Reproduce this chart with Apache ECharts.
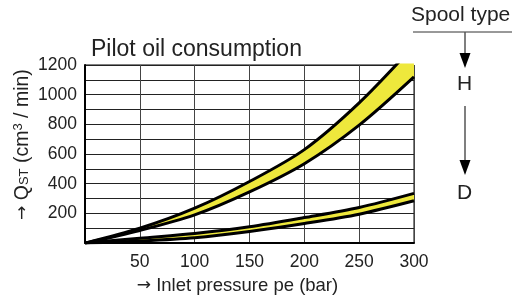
<!DOCTYPE html>
<html>
<head>
<meta charset="utf-8">
<script src="https://cdn.jsdelivr.net/npm/echarts@6/dist/echarts.min.js"></script>
<style>
  html, body { margin: 0; padding: 0; background: #fff; }
  #main { width: 524px; height: 300px; }
</style>
</head>
<body>
<div id="main"></div>
<script>
// pressure values (bar)
const pressure = ['0', '50', '100', '150', '200', '250', '300'];
// spool H band (cm3/min)
const hLower = [0, 85, 190, 345, 535, 795, 1120];
const hUpper = [0, 100, 235, 415, 630, 945, 1330];
// spool D band
const dLower = [0, 14, 36, 78, 132, 195, 285];
const dUpper = [0, 33, 65, 110, 172, 240, 335];

const yellow = '#eee83c';
const font = 'Liberation Sans, Arial, sans-serif';

const diff = (a, b) => a.map((v, i) => v - b[i]);

const lineBase = { type: 'line', smooth: 0.3, symbol: 'none', lineStyle: { color: '#000', width: 3 } };

const chart = echarts.init(document.getElementById('main'));
chart.setOption({
    animation: false,
    title: {
        text: 'Pilot oil consumption',
        left: 86, top: 33,
        textStyle: { fontFamily: font, fontSize: 23, fontWeight: 'normal', color: '#222' }
    },
    grid: { left: 85, right: 110, top: 65, bottom: 52, show: true, borderColor: '#000', borderWidth: 1 },
    xAxis: {
        type: 'category', boundaryGap: false, data: pressure,
        name: '{a|→} Inlet pressure pe (bar)',
        nameLocation: 'middle', nameGap: 31,
        nameTextStyle: {
            fontFamily: font, fontSize: 18.5, color: '#222', padding: [0, 24, 0, 0],
            rich: { a: { fontFamily: 'DejaVu Sans', fontSize: 17, color: '#222' } }
        },
        axisLine: { lineStyle: { color: '#000', width: 2 } },
        axisTick: { show: false },
        axisLabel: { interval: 0, margin: 10, fontFamily: font, fontSize: 17.5, color: '#222', formatter: v => v === '0' ? '' : v },
        splitLine: { show: true, interval: 0, lineStyle: { color: '#444', width: 1 } }
    },
    yAxis: {
        type: 'value', min: 0, max: 1200, interval: 100,
        name: '{a|→} Q{s|ST} (cm{p|3} / min)',
        nameLocation: 'middle', nameGap: 52, nameMoveOverlap: false,
        nameTextStyle: {
            fontFamily: font, fontSize: 19.5, color: '#222', padding: [0, 0, 0, 19],
            rich: {
                a: { fontFamily: 'DejaVu Sans', fontSize: 17, color: '#222' },
                s: { fontFamily: font, fontSize: 13, color: '#222', padding: [4, 0, 0, 0] },
                p: { fontFamily: font, fontSize: 13, color: '#222', padding: [0, 0, 8, 0] }
            }
        },
        axisLine: { show: true, lineStyle: { color: '#000', width: 2 } },
        axisTick: { show: false },
        axisLabel: { margin: 8, fontFamily: font, fontSize: 17.5, color: '#222', formatter: v => (v > 0 && v % 200 === 0) ? v : '' },
        splitLine: { lineStyle: { color: '#222', width: 1 } }
    },
    series: [
        Object.assign({}, lineBase, { name: 'H min', stack: 'H', z: 3, data: hLower }),
        Object.assign({}, lineBase, { name: 'H max', stack: 'H', z: 2, areaStyle: { color: yellow, opacity: 1 }, data: diff(hUpper, hLower) }),
        Object.assign({}, lineBase, { name: 'D min', stack: 'D', z: 3, data: dLower }),
        Object.assign({}, lineBase, { name: 'D max', stack: 'D', z: 2, areaStyle: { color: yellow, opacity: 1 }, data: diff(dUpper, dLower) })
    ],
    graphic: [
        { type: 'text', left: 411, top: 5, style: { text: 'Spool type', font: '21px ' + font, fill: '#222' } },
        { type: 'line', shape: { x1: 413, y1: 32, x2: 512, y2: 32 }, style: { stroke: '#333', lineWidth: 1 } },
        { type: 'line', shape: { x1: 465, y1: 32, x2: 465, y2: 56 }, style: { stroke: '#555', lineWidth: 1.5 } },
        { type: 'polygon', shape: { points: [[459.5, 53], [470.5, 53], [465, 68]] }, style: { fill: '#000' } },
        { type: 'text', left: 457, top: 74, style: { text: 'H', font: '21px ' + font, fill: '#222' } },
        { type: 'line', shape: { x1: 465, y1: 106, x2: 465, y2: 163 }, style: { stroke: '#555', lineWidth: 1.5 } },
        { type: 'polygon', shape: { points: [[459.5, 160], [470.5, 160], [465, 175]] }, style: { fill: '#000' } },
        { type: 'text', left: 457, top: 183, style: { text: 'D', font: '21px ' + font, fill: '#222' } }
    ]
});
</script>
</body>
</html>
